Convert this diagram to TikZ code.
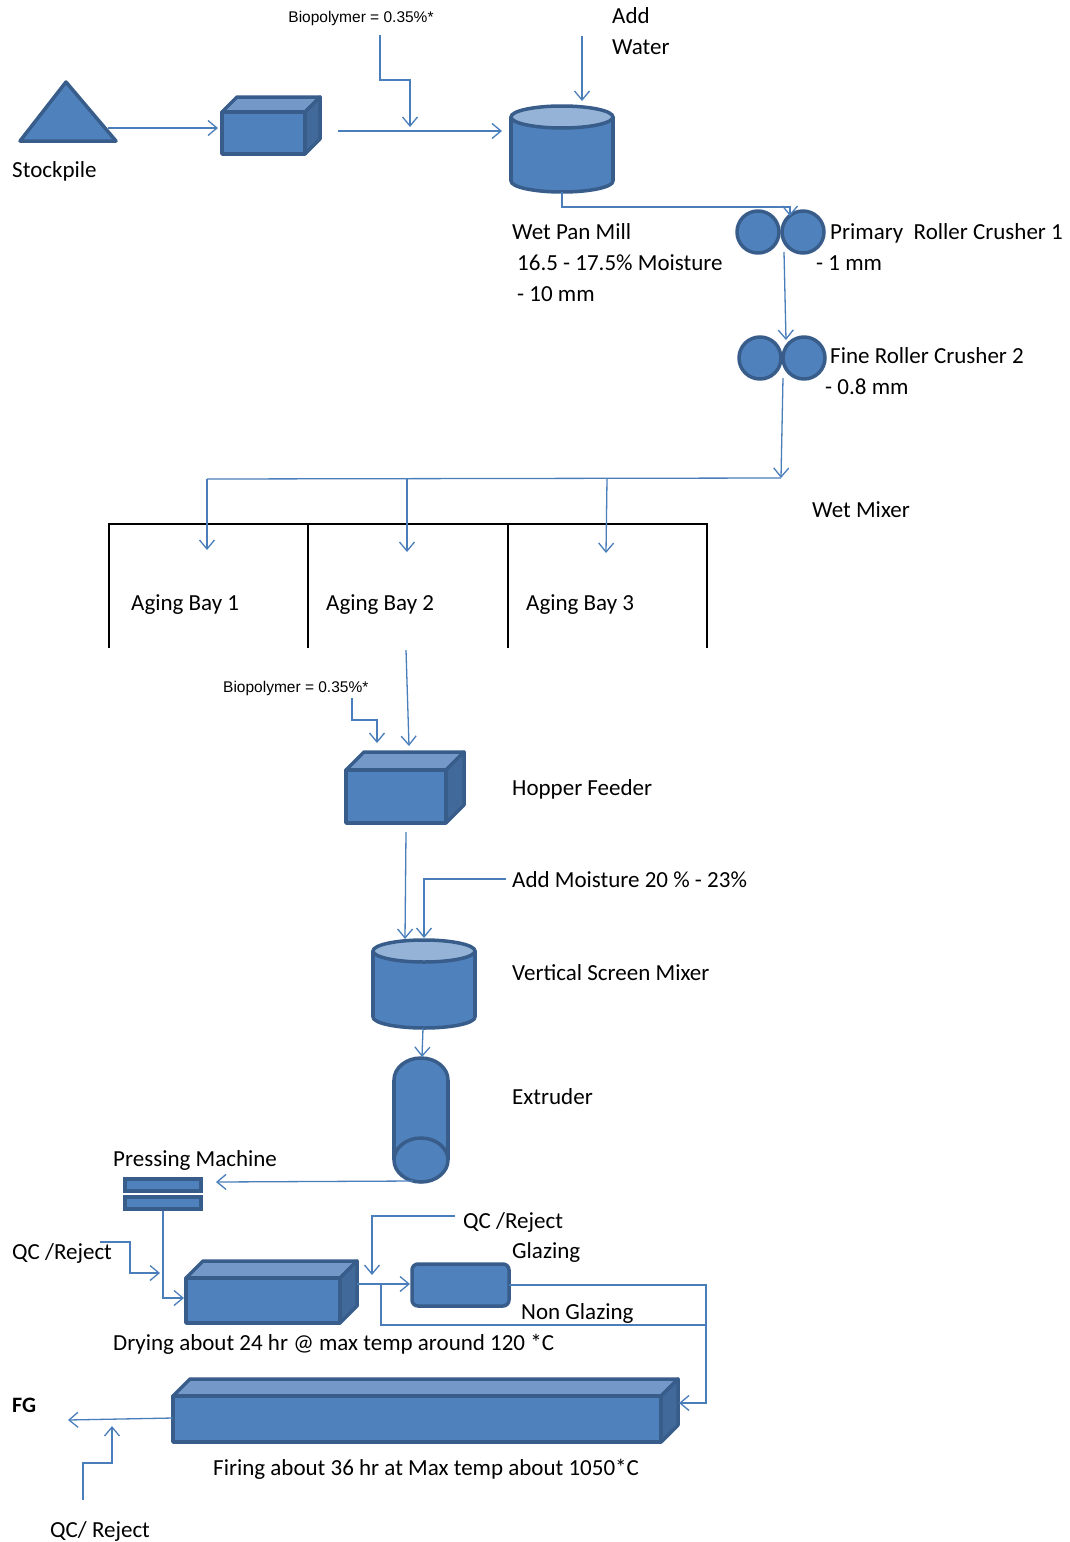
\documentclass[tikz,border=0pt]{standalone}
\usepackage{fontspec}
\setmainfont{Carlito}
\newfontfamily\biofont{Liberation Sans}
\usetikzlibrary{arrows.meta}
\definecolor{fillb}{HTML}{4F81BD}
\definecolor{edgeb}{HTML}{385D8A}
\definecolor{topb}{HTML}{7498C8}
\definecolor{sideb}{HTML}{41699A}
\definecolor{capb}{HTML}{95B3D7}
\definecolor{lineb}{HTML}{4A7EBB}
\tikzset{
 flow/.style={draw=lineb, line width=1.3pt, -{Straight Barb[length=9pt,width=15pt,line width=1.3pt]}},
 plainline/.style={draw=lineb, line width=1.3pt},
 shp/.style={fill=fillb, draw=edgeb, line width=3.5pt, line join=round},
 lbl/.style={anchor=base west, inner sep=0pt, font=\fontsize{23}{27}\selectfont},
 bio/.style={inner sep=0pt, font=\biofont\fontsize{15.5}{18}\selectfont},
 baywall/.style={draw=black, line width=1.8pt},
}
% cube: x1,y1 (front top-left), x2,y2 (front bottom-right), depth
\newcommand\mycube[5]{%
 \filldraw[fill=topb, draw=edgeb, line width=3.5pt, line join=round] (#1,#2) -- (#1+#5,#2-#5) -- (#3+#5,#2-#5) -- (#3,#2) -- cycle;
 \filldraw[fill=sideb, draw=edgeb, line width=3.5pt, line join=round] (#3,#2) -- (#3+#5,#2-#5) -- (#3+#5,#4-#5) -- (#3,#4) -- cycle;
 \filldraw[shp] (#1,#2) rectangle (#3,#4);
}
% cylinder: cx, ytop, ybot, rx, ry
\newcommand\mycyl[5]{%
 \filldraw[shp] (#1,#3) circle[x radius=#4, y radius=#5];
 \fill[fillb] (#1-#4,#2) rectangle (#1+#4,#3);
 \draw[edgeb, line width=3.5pt] (#1-#4,#2) -- (#1-#4,#3) (#1+#4,#2) -- (#1+#4,#3);
 \filldraw[fill=capb, draw=edgeb, line width=3.5pt] (#1,#2) circle[x radius=#4, y radius=#5];
}
\begin{document}
\begin{tikzpicture}[x=1pt,y=-1pt]
\fill[white] (0,0) rectangle (1069,1542);
\useasboundingbox (0,0) rectangle (1069,1542);

% ---------- shapes ----------
\filldraw[shp] (66,82) -- (116,141) -- (20,141) -- cycle;
\mycube{222}{112}{305}{154}{15}
\mycyl{562}{117}{181}{51}{11}
\filldraw[shp] (758,232) circle[radius=21];
\filldraw[shp] (803,232) circle[radius=21];
\filldraw[shp] (760,358) circle[radius=21];
\filldraw[shp] (804,358) circle[radius=21];
\mycube{346}{770}{446}{823}{18}
\mycyl{424}{951}{1017}{51}{11}
% extruder
\filldraw[shp] (421,1080) circle[x radius=27, y radius=22];
\fill[fillb] (394,1080) rectangle (448,1160);
\draw[edgeb, line width=3.5pt] (394,1080) -- (394,1160) (448,1080) -- (448,1160);
\filldraw[shp] (421,1160) circle[x radius=27, y radius=22];
% pressing machine
\fill[edgeb] (123,1177) rectangle (203,1193);
\fill[fillb] (127,1181) rectangle (199,1189);
\fill[edgeb] (123,1195) rectangle (203,1211);
\fill[fillb] (127,1199) rectangle (199,1207);
\mycube{186}{1278}{340}{1323}{17}
\filldraw[shp, rounded corners=6pt] (412,1264) rectangle (509,1306);
\mycube{173}{1396}{661}{1442}{17}

% aging bays
\draw[baywall] (109,648) -- (109,524) -- (707,524) -- (707,648);
\draw[baywall] (308,524) -- (308,648);
\draw[baywall] (508,524) -- (508,648);

% ---------- labels ----------
\node[bio] (bio1) at (361,18) {Biopolymer = 0.35\%*};
\node[lbl] (addw1) at (612,23) {Add};
\node[lbl] (addw2) at (612,54) {Water};
\node[lbl] (stock) at (12,177) {Stockpile};
\node[lbl] (wpm1) at (512,239) {Wet Pan Mill};
\node[lbl] (wpm2) at (517,270) {16.5 - 17.5\% Moisture};
\node[lbl] (wpm3) at (517,301) {- 10 mm};
\node[lbl] (rc1a) at (830,239) {Primary\ \ Roller Crusher 1};
\node[lbl] (rc1b) at (816,270) {- 1 mm};
\node[lbl] (rc2a) at (830,363) {Fine Roller Crusher 2};
\node[lbl] (rc2b) at (825,394) {- 0.8 mm};
\node[lbl] (wmix) at (812,517) {Wet Mixer};
\node[lbl] (bay1) at (131,610) {Aging Bay 1};
\node[lbl] (bay2) at (326,610) {Aging Bay 2};
\node[lbl] (bay3) at (526,610) {Aging Bay 3};
\node[bio, anchor=west] (bio2) at (223,688) {Biopolymer = 0.35\%*};
\node[lbl] (hop) at (512,795) {Hopper Feeder};
\node[lbl] (moist) at (512,887) {Add Moisture 20 \% - 23\%};
\node[lbl] (vsm) at (512,980) {Vertical Screen Mixer};
\node[lbl] (extr) at (512,1104) {Extruder};
\node[lbl] (press) at (113,1166) {Pressing Machine};
\node[lbl] (qc1) at (12,1259) {QC /Reject};
\node[lbl] (qc2) at (463,1228) {QC /Reject};
\node[lbl] (glz) at (512,1258) {Glazing};
\node[lbl] (nglz) at (521,1319) {Non Glazing};
\node[lbl] (dry) at (113,1350) {Drying about 24 hr @ max temp around 120 *C};
\node[lbl, font=\bfseries\fontsize{22}{26}\selectfont] (fg) at (12,1412) {FG};
\node[lbl] (fire) at (213,1475) {Firing about 36 hr at Max temp about 1050*C};
\node[lbl] (qc3) at (50,1537) {QC/ Reject};

% ---------- connectors ----------
\coordinate (spout) at (108,128);
\coordinate (b1in) at (218,128);
\draw[flow] (spout) -- (b1in);
\coordinate (b1out) at (338,131);
\coordinate (wpmin) at (502,131);
\draw[flow] (b1out) -- (wpmin);
\coordinate (bio1src) at (380,35);
\coordinate (bio1dst) at (410,127);
\draw[flow] (bio1src) -- (380,80) -| (bio1dst);
\coordinate (awsrc) at (582,36);
\coordinate (awdst) at (582,101);
\draw[flow] (awsrc) -- (awdst);
\coordinate (wpmout) at (562,192);
\coordinate (r1in) at (790,216);
\draw[flow] (wpmout) |- (790,207) -- (r1in);
\coordinate (r1out) at (784,252);
\coordinate (r2in) at (786,340);
\draw[flow] (r1out) -- (r2in);
\coordinate (r2out) at (783,378);
\coordinate (wmin) at (781,478);
\draw[flow] (r2out) -- (wmin);
\coordinate (hl) at (207,479);
\draw[plainline] (wmin) -- (hl);
\coordinate (bay1in) at (207,550);
\coordinate (bay2in) at (407,552);
\coordinate (bay3in) at (606,553);
\draw[flow] (hl) -- (bay1in);
\draw[flow] (407,479) -- (bay2in);
\draw[flow] (607,479) -- (bay3in);
\coordinate (bayout) at (406,650);
\coordinate (hopin) at (409,746);
\draw[flow] (bayout) -- (hopin);
\coordinate (bio2src) at (352,698);
\coordinate (bio2dst) at (377,743);
\draw[flow] (bio2src) -- (352,720) -| (bio2dst);
\coordinate (hopout) at (406,832);
\coordinate (vsmin) at (405,939);
\draw[flow] (hopout) -- (vsmin);
\coordinate (moistsrc) at (506,879);
\coordinate (moistdst) at (424,938);
\draw[flow] (moistsrc) -| (moistdst);
\coordinate (vsmout) at (423,1028);
\coordinate (extin) at (422,1057);
\draw[flow] (vsmout) -- (extin);
\coordinate (extout) at (413,1181);
\coordinate (pressin) at (216,1182);
\draw[flow] (extout) -- (pressin);
\coordinate (pressout) at (163,1211);
\coordinate (dryin) at (184,1298);
\draw[flow] (pressout) |- (dryin);
\coordinate (qc1src) at (100,1242);
\coordinate (qc1dst) at (160,1273);
\draw[flow] (qc1src) -- (130,1242) |- (qc1dst);
\coordinate (qc2src) at (455,1216);
\coordinate (qc2dst) at (372,1275);
\draw[flow] (qc2src) -| (qc2dst);
\coordinate (dryout) at (357,1284);
\coordinate (glzin) at (410,1284);
\draw[flow] (dryout) -- (glzin);
\coordinate (glzout) at (509,1285);
\coordinate (firein) at (679,1403);
\draw[flow] (glzout) -- (706,1285) |- (firein);
\coordinate (ngsrc) at (381,1284);
\draw[plainline] (ngsrc) |- (706,1325);
\coordinate (fireout) at (173,1418);
\coordinate (fgin) at (68,1420);
\draw[flow] (fireout) -- (fgin);
\coordinate (qc3src) at (83,1500);
\coordinate (qc3dst) at (112,1426);
\draw[flow] (qc3src) -- (83,1463) -| (qc3dst);
\end{tikzpicture}
\end{document}
